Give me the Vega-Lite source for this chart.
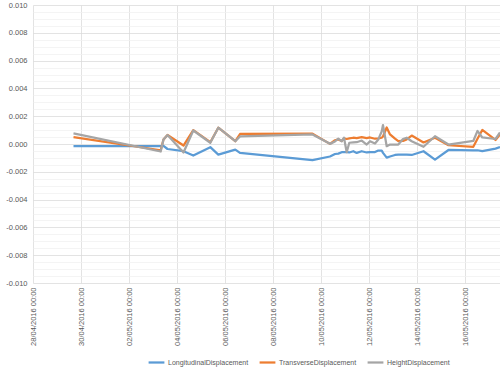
{
  "$schema": "https://vega.github.io/schema/vega-lite/v6.json",
  "autosize": {"type": "none"},
  "width": 467,
  "height": 278,
  "padding": {"left": 33, "top": 5, "right": 0, "bottom": 87},
  "background": "white",
  "config": {"view": {"stroke": null}, "font": "Liberation Sans"},
  "data": {"values": [
    {"t": "2016-04-29T16:30", "LongitudinalDisplacement": -0.00016, "TransverseDisplacement": 0.00049, "HeightDisplacement": 0.00076},
    {"t": "2016-05-03T07:42", "LongitudinalDisplacement": -0.00016, "TransverseDisplacement": -0.00045, "HeightDisplacement": -0.00054},
    {"t": "2016-05-03T10:30", "LongitudinalDisplacement": -0.00014, "TransverseDisplacement": 0.00032, "HeightDisplacement": 0.00032},
    {"t": "2016-05-03T14:30", "LongitudinalDisplacement": -0.00036, "TransverseDisplacement": 0.00065, "HeightDisplacement": 0.00064},
    {"t": "2016-05-04T06:30", "LongitudinalDisplacement": -0.00052, "TransverseDisplacement": -0.00011, "HeightDisplacement": -0.00061},
    {"t": "2016-05-04T16:18", "LongitudinalDisplacement": -0.00083, "TransverseDisplacement": 0.00100, "HeightDisplacement": 0.00097},
    {"t": "2016-05-05T09:18", "LongitudinalDisplacement": -0.00023, "TransverseDisplacement": 0.00013, "HeightDisplacement": 0.00009},
    {"t": "2016-05-05T17:18", "LongitudinalDisplacement": -0.00076, "TransverseDisplacement": 0.00117, "HeightDisplacement": 0.00117},
    {"t": "2016-05-06T10:18", "LongitudinalDisplacement": -0.00040, "TransverseDisplacement": 0.00020, "HeightDisplacement": 0.00020},
    {"t": "2016-05-06T15:00", "LongitudinalDisplacement": -0.00064, "TransverseDisplacement": 0.00072, "HeightDisplacement": 0.00054},
    {"t": "2016-05-09T15:30", "LongitudinalDisplacement": -0.00116, "TransverseDisplacement": 0.00074, "HeightDisplacement": 0.00069},
    {"t": "2016-05-10T09:00", "LongitudinalDisplacement": -0.00090, "TransverseDisplacement": 0.00001, "HeightDisplacement": 0.00001},
    {"t": "2016-05-10T14:00", "LongitudinalDisplacement": -0.00072, "TransverseDisplacement": 0.00027, "HeightDisplacement": 0.00018},
    {"t": "2016-05-10T17:18", "LongitudinalDisplacement": -0.00069, "TransverseDisplacement": 0.00033, "HeightDisplacement": 0.00038},
    {"t": "2016-05-10T20:42", "LongitudinalDisplacement": -0.00059, "TransverseDisplacement": 0.00022, "HeightDisplacement": 0.00020},
    {"t": "2016-05-10T23:00", "LongitudinalDisplacement": -0.00059, "TransverseDisplacement": 0.00040, "HeightDisplacement": 0.00045},
    {"t": "2016-05-11T01:42", "LongitudinalDisplacement": -0.00059, "TransverseDisplacement": 0.00036, "HeightDisplacement": -0.00059},
    {"t": "2016-05-11T04:18", "LongitudinalDisplacement": -0.00061, "TransverseDisplacement": 0.00040, "HeightDisplacement": 0.00009},
    {"t": "2016-05-11T08:18", "LongitudinalDisplacement": -0.00052, "TransverseDisplacement": 0.00045, "HeightDisplacement": 0.00011},
    {"t": "2016-05-11T11:42", "LongitudinalDisplacement": -0.00064, "TransverseDisplacement": 0.00043, "HeightDisplacement": 0.00013},
    {"t": "2016-05-11T16:42", "LongitudinalDisplacement": -0.00052, "TransverseDisplacement": 0.00049, "HeightDisplacement": 0.00025},
    {"t": "2016-05-11T21:42", "LongitudinalDisplacement": -0.00061, "TransverseDisplacement": 0.00043, "HeightDisplacement": -0.00004},
    {"t": "2016-05-12T01:00", "LongitudinalDisplacement": -0.00058, "TransverseDisplacement": 0.00047, "HeightDisplacement": 0.00020},
    {"t": "2016-05-12T06:00", "LongitudinalDisplacement": -0.00058, "TransverseDisplacement": 0.00038, "HeightDisplacement": 0.00004},
    {"t": "2016-05-12T09:18", "LongitudinalDisplacement": -0.00047, "TransverseDisplacement": 0.00040, "HeightDisplacement": 0.00033},
    {"t": "2016-05-12T12:42", "LongitudinalDisplacement": -0.00047, "TransverseDisplacement": 0.00045, "HeightDisplacement": 0.00090},
    {"t": "2016-05-12T14:00", "LongitudinalDisplacement": -0.00064, "TransverseDisplacement": 0.00054, "HeightDisplacement": 0.00136},
    {"t": "2016-05-12T17:42", "LongitudinalDisplacement": -0.00098, "TransverseDisplacement": 0.00119, "HeightDisplacement": -0.00016},
    {"t": "2016-05-12T21:00", "LongitudinalDisplacement": -0.00090, "TransverseDisplacement": 0.00069, "HeightDisplacement": -0.00004},
    {"t": "2016-05-13T02:00", "LongitudinalDisplacement": -0.00079, "TransverseDisplacement": 0.00038, "HeightDisplacement": -0.00004},
    {"t": "2016-05-13T05:18", "LongitudinalDisplacement": -0.00076, "TransverseDisplacement": 0.00020, "HeightDisplacement": -0.00004},
    {"t": "2016-05-13T10:00", "LongitudinalDisplacement": -0.00076, "TransverseDisplacement": 0.00022, "HeightDisplacement": 0.00036},
    {"t": "2016-05-13T13:42", "LongitudinalDisplacement": -0.00076, "TransverseDisplacement": 0.00033, "HeightDisplacement": 0.00045},
    {"t": "2016-05-13T18:42", "LongitudinalDisplacement": -0.00079, "TransverseDisplacement": 0.00061, "HeightDisplacement": 0.00020},
    {"t": "2016-05-14T06:30", "LongitudinalDisplacement": -0.00052, "TransverseDisplacement": 0.00011, "HeightDisplacement": -0.00020},
    {"t": "2016-05-14T18:00", "LongitudinalDisplacement": -0.00112, "TransverseDisplacement": 0.00045, "HeightDisplacement": 0.00056},
    {"t": "2016-05-15T07:30", "LongitudinalDisplacement": -0.00043, "TransverseDisplacement": -0.00009, "HeightDisplacement": -0.00004},
    {"t": "2016-05-16T08:18", "LongitudinalDisplacement": -0.00045, "TransverseDisplacement": -0.00020, "HeightDisplacement": 0.00022},
    {"t": "2016-05-16T12:30", "LongitudinalDisplacement": -0.00045, "TransverseDisplacement": 0.00038, "HeightDisplacement": 0.00094},
    {"t": "2016-05-16T17:18", "LongitudinalDisplacement": -0.00051, "TransverseDisplacement": 0.00101, "HeightDisplacement": 0.00047},
    {"t": "2016-05-17T06:30", "LongitudinalDisplacement": -0.00033, "TransverseDisplacement": 0.00029, "HeightDisplacement": 0.00036},
    {"t": "2016-05-17T11:00", "LongitudinalDisplacement": -0.00023, "TransverseDisplacement": 0.00069, "HeightDisplacement": 0.00083}
  ]},
  "transform": [
    {"fold": ["LongitudinalDisplacement", "TransverseDisplacement", "HeightDisplacement"], "as": ["series", "value"]}
  ],
  "mark": {"type": "line", "strokeWidth": 2.25, "clip": true, "strokeJoin": "round"},
  "encoding": {
    "x": {
      "field": "t", "type": "temporal", "title": null,
      "scale": {"domain": [{"year": 2016, "month": 4, "date": 28}, {"year": 2016, "month": 5, "date": 17, "hours": 11}]},
      "axis": {
        "values": [
          {"year": 2016, "month": 4, "date": 28}, {"year": 2016, "month": 4, "date": 30},
          {"year": 2016, "month": 5, "date": 2}, {"year": 2016, "month": 5, "date": 4},
          {"year": 2016, "month": 5, "date": 6}, {"year": 2016, "month": 5, "date": 8},
          {"year": 2016, "month": 5, "date": 10}, {"year": 2016, "month": 5, "date": 12},
          {"year": 2016, "month": 5, "date": 14}, {"year": 2016, "month": 5, "date": 16}
        ],
        "format": "%d/%m/%Y %H:%M",
        "labelAngle": 270,
        "labelFontSize": 7.5,
        "labelColor": "#595959",
        "labelPadding": 4,
        "labelOverlap": false,
        "labelFlush": false,
        "ticks": false,
        "domain": false,
        "grid": true,
        "gridColor": "#D9D9D9",
        "gridWidth": 0.75
      }
    },
    "y": {
      "field": "value", "type": "quantitative", "title": null,
      "scale": {"domain": [-0.01, 0.01], "nice": false, "zero": false},
      "axis": {
        "values": [-0.01, -0.0095, -0.009, -0.0085, -0.008, -0.0075, -0.007, -0.0065, -0.006, -0.0055, -0.005, -0.0045, -0.004, -0.0035, -0.003, -0.0025, -0.002, -0.0015, -0.001, -0.0005, 0, 0.0005, 0.001, 0.0015, 0.002, 0.0025, 0.003, 0.0035, 0.004, 0.0045, 0.005, 0.0055, 0.006, 0.0065, 0.007, 0.0075, 0.008, 0.0085, 0.009, 0.0095, 0.01],
        "labelExpr": "abs(round(datum.value*10000)) % 20 == 0 ? replace(format(datum.value, '.3f'), '\u2212', '-') : ''",
        "labelFontSize": 7.5,
        "labelColor": "#595959",
        "labelPadding": 6,
        "labelOverlap": false,
        "labelFlush": false,
        "ticks": false,
        "domain": false,
        "grid": true,
        "gridColor": {"condition": {"test": "abs(round(datum.value*10000)) % 20 == 0", "value": "#D9D9D9"}, "value": "#F0F0F0"},
        "gridWidth": 0.75
      }
    },
    "color": {
      "field": "series", "type": "nominal", "title": null,
      "scale": {"domain": ["LongitudinalDisplacement", "TransverseDisplacement", "HeightDisplacement"], "range": ["#5B9BD5", "#ED7D31", "#A5A5A5"]},
      "legend": {
        "orient": "none",
        "direction": "horizontal",
        "legendX": 114,
        "legendY": 348,
        "gridAlign": "none",
        "symbolType": "stroke",
        "symbolStrokeWidth": 2.25,
        "symbolSize": 250,
        "labelFontSize": 7,
        "labelOffset": 2,
        "labelColor": "#595959",
        "columnPadding": 6,
        "symbolOffset": 0
      }
    }
  }
}
